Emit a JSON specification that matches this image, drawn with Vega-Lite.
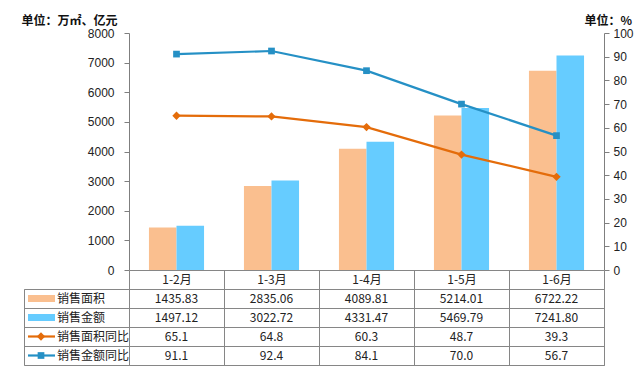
{
  "$schema": "https://vega.github.io/schema/vega-lite/v6.json",
  "background": "white",
  "padding": {"left": 21, "top": 14, "right": 5, "bottom": 5},
  "datasets": {
    "d": [
      {"month": "1-2月", "series": "销售面积", "value": 1435.83},
      {"month": "1-3月", "series": "销售面积", "value": 2835.06},
      {"month": "1-4月", "series": "销售面积", "value": 4089.81},
      {"month": "1-5月", "series": "销售面积", "value": 5214.01},
      {"month": "1-6月", "series": "销售面积", "value": 6722.22},
      {"month": "1-2月", "series": "销售金额", "value": 1497.12},
      {"month": "1-3月", "series": "销售金额", "value": 3022.72},
      {"month": "1-4月", "series": "销售金额", "value": 4331.47},
      {"month": "1-5月", "series": "销售金额", "value": 5469.79},
      {"month": "1-6月", "series": "销售金额", "value": 7241.80},
      {"month": "1-2月", "series": "销售面积同比", "value": 65.1},
      {"month": "1-3月", "series": "销售面积同比", "value": 64.8},
      {"month": "1-4月", "series": "销售面积同比", "value": 60.3},
      {"month": "1-5月", "series": "销售面积同比", "value": 48.7},
      {"month": "1-6月", "series": "销售面积同比", "value": 39.3},
      {"month": "1-2月", "series": "销售金额同比", "value": 91.1},
      {"month": "1-3月", "series": "销售金额同比", "value": 92.4},
      {"month": "1-4月", "series": "销售金额同比", "value": 84.1},
      {"month": "1-5月", "series": "销售金额同比", "value": 70.0},
      {"month": "1-6月", "series": "销售金额同比", "value": 56.7}
    ]
  },
  "columns": 2,
  "align": "each",
  "bounds": "flush",
  "spacing": {"row": 19, "column": 0},
  "config": {
    "view": {"stroke": null},
    "font": "Noto Sans CJK SC",
    "axis": {"labelFont": "Liberation Sans", "labelColor": "#222", "titleColor": "#111"}
  },
  "concat": [
    {
      "width": 105,
      "height": 237,
      "data": {"values": [{}]},
      "mark": {"type": "text", "text": ""}
    },
    {
      "width": 475,
      "height": 237,
      "data": {"name": "d"},
      "layer": [
        {
          "transform": [{"filter": {"field": "series", "oneOf": ["销售面积", "销售金额"]}}],
          "mark": {"type": "bar"},
          "encoding": {
            "x": {
              "field": "month", "type": "nominal", "sort": null,
              "scale": {"domain": ["1-2月", "1-3月", "1-4月", "1-5月", "1-6月"], "paddingInner": 0.42, "paddingOuter": 0.21},
              "axis": {"labels": false, "ticks": false, "title": null, "domainColor": "#868686", "domainWidth": 1}
            },
            "xOffset": {"field": "series", "type": "nominal", "sort": ["销售面积", "销售金额"]},
            "y": {
              "field": "value", "type": "quantitative",
              "scale": {"domain": [0, 8000], "nice": false},
              "axis": {
                "values": [0, 1000, 2000, 3000, 4000, 5000, 6000, 7000, 8000], "format": "d",
                "grid": false, "tickSize": 5, "labelPadding": 10, "labelFontSize": 12,
                "domainColor": "#7f7f7f", "tickColor": "#7f7f7f",
                "title": "单位：万㎡、亿元", "titleAngle": 0, "titleX": -108, "titleY": -13,
                "titleAlign": "left", "titleBaseline": "middle", "titleFontSize": 12, "titleFontWeight": "bold",
                "titleFont": "Noto Sans CJK SC"
              }
            },
            "color": {
              "field": "series", "type": "nominal",
              "scale": {"domain": ["销售面积", "销售金额"], "range": ["#FABF8F", "#66CCFF"]},
              "legend": null
            }
          }
        },
        {
          "transform": [{"filter": {"field": "series", "oneOf": ["销售面积同比", "销售金额同比"]}}],
          "encoding": {
            "x": {"field": "month", "type": "nominal", "sort": null},
            "y": {
              "field": "value", "type": "quantitative",
              "scale": {"domain": [0, 100], "nice": false},
              "axis": {
                "orient": "right",
                "values": [0, 10, 20, 30, 40, 50, 60, 70, 80, 90, 100], "format": "d",
                "grid": false, "tickSize": 5, "labelPadding": 4, "labelFontSize": 12,
                "domainColor": "#7f7f7f", "tickColor": "#7f7f7f",
                "title": "单位：%", "titleAngle": 0, "titleX": -20, "titleY": -13,
                "titleAlign": "left", "titleBaseline": "middle", "titleFontSize": 12, "titleFontWeight": "bold",
                "titleFont": "Noto Sans CJK SC"
              }
            },
            "color": {
              "field": "series", "type": "nominal",
              "scale": {"domain": ["销售面积同比", "销售金额同比"], "range": ["#E46C0A", "#2590C5"]},
              "legend": null
            }
          },
          "layer": [
            {"mark": {"type": "line", "strokeWidth": 2.2}},
            {
              "mark": {"type": "point", "filled": true, "opacity": 1},
              "encoding": {
                "shape": {"field": "series", "type": "nominal", "scale": {"domain": ["销售面积同比", "销售金额同比"], "range": ["diamond", "square"]}, "legend": null},
                "size": {"field": "series", "type": "nominal", "scale": {"domain": ["销售面积同比", "销售金额同比"], "range": [70, 45]}, "legend": null}
              }
            }
          ]
        }
      ],
      "resolve": {"scale": {"y": "independent", "color": "independent"}}
    },
    {
      "width": 105,
      "height": 76,
      "view": {"stroke": "#868686"},
      "data": {"name": "d"},
      "transform": [{"filter": "datum.month == '1-2月'"}],
      "encoding": {
        "y": {
          "field": "series", "type": "nominal",
          "scale": {"domain": ["销售面积", "销售金额", "销售面积同比", "销售金额同比"], "paddingInner": 0, "paddingOuter": 0},
          "axis": {"labels": false, "ticks": false, "domain": false, "title": null, "grid": true, "tickBand": "extent", "gridColor": "#868686"}
        }
      },
      "layer": [
        {
          "transform": [{"filter": {"field": "series", "oneOf": ["销售面积", "销售金额"]}}],
          "mark": {"type": "bar", "height": 7},
          "encoding": {
            "x": {"datum": 4, "type": "quantitative", "scale": {"domain": [0, 105]}, "axis": null},
            "x2": {"datum": 31},
            "color": {
              "field": "series", "type": "nominal",
              "scale": {"domain": ["销售面积", "销售金额", "销售面积同比", "销售金额同比"], "range": ["#FABF8F", "#66CCFF", "#E46C0A", "#2590C5"]},
              "legend": null
            }
          }
        },
        {
          "transform": [{"filter": {"field": "series", "oneOf": ["销售面积同比", "销售金额同比"]}}],
          "mark": {"type": "rule", "strokeWidth": 2.2},
          "encoding": {
            "x": {"datum": 4, "type": "quantitative", "scale": {"domain": [0, 105]}, "axis": null},
            "x2": {"datum": 31},
            "color": {"field": "series", "type": "nominal", "legend": null}
          }
        },
        {
          "transform": [{"filter": {"field": "series", "oneOf": ["销售面积同比", "销售金额同比"]}}],
          "mark": {"type": "point", "filled": true, "opacity": 1},
          "encoding": {
            "x": {"datum": 17, "type": "quantitative", "scale": {"domain": [0, 105]}, "axis": null},
            "color": {"field": "series", "type": "nominal", "legend": null},
            "shape": {"field": "series", "type": "nominal", "scale": {"domain": ["销售面积同比", "销售金额同比"], "range": ["diamond", "square"]}, "legend": null},
            "size": {"field": "series", "type": "nominal", "scale": {"domain": ["销售面积同比", "销售金额同比"], "range": [55, 40]}, "legend": null}
          }
        },
        {
          "mark": {"type": "text", "align": "left", "baseline": "middle", "fontSize": 12, "color": "#222"},
          "encoding": {
            "x": {"datum": 33, "type": "quantitative", "scale": {"domain": [0, 105]}, "axis": null},
            "text": {"field": "series"}
          }
        }
      ]
    },
    {
      "width": 475,
      "height": 76,
      "view": {"stroke": "#868686"},
      "data": {"name": "d"},
      "encoding": {
        "x": {
          "field": "month", "type": "nominal",
          "scale": {"domain": ["1-2月", "1-3月", "1-4月", "1-5月", "1-6月"], "paddingInner": 0, "paddingOuter": 0},
          "axis": {
            "orient": "top", "title": null, "labelAngle": 0, "tickBand": "extent", "tickSize": 19,
            "labelBaseline": "middle", "labelPadding": -9.5, "labelFont": "Noto Sans CJK SC", "labelFontSize": 12,
            "grid": true, "gridColor": "#868686", "tickColor": "#868686", "domainColor": "#868686"
          }
        },
        "y": {
          "field": "series", "type": "nominal",
          "scale": {"domain": ["销售面积", "销售金额", "销售面积同比", "销售金额同比"], "paddingInner": 0, "paddingOuter": 0},
          "axis": {"labels": false, "ticks": false, "domain": false, "title": null, "grid": true, "tickBand": "extent", "gridColor": "#868686"}
        }
      },
      "layer": [
        {
          "transform": [{"filter": {"field": "series", "oneOf": ["销售面积", "销售金额"]}}],
          "mark": {"type": "text", "fontSize": 12, "color": "#222"},
          "encoding": {"text": {"field": "value", "type": "quantitative", "format": ".2f"}}
        },
        {
          "transform": [{"filter": {"field": "series", "oneOf": ["销售面积同比", "销售金额同比"]}}],
          "mark": {"type": "text", "fontSize": 12, "color": "#222"},
          "encoding": {"text": {"field": "value", "type": "quantitative", "format": ".1f"}}
        }
      ]
    }
  ]
}
